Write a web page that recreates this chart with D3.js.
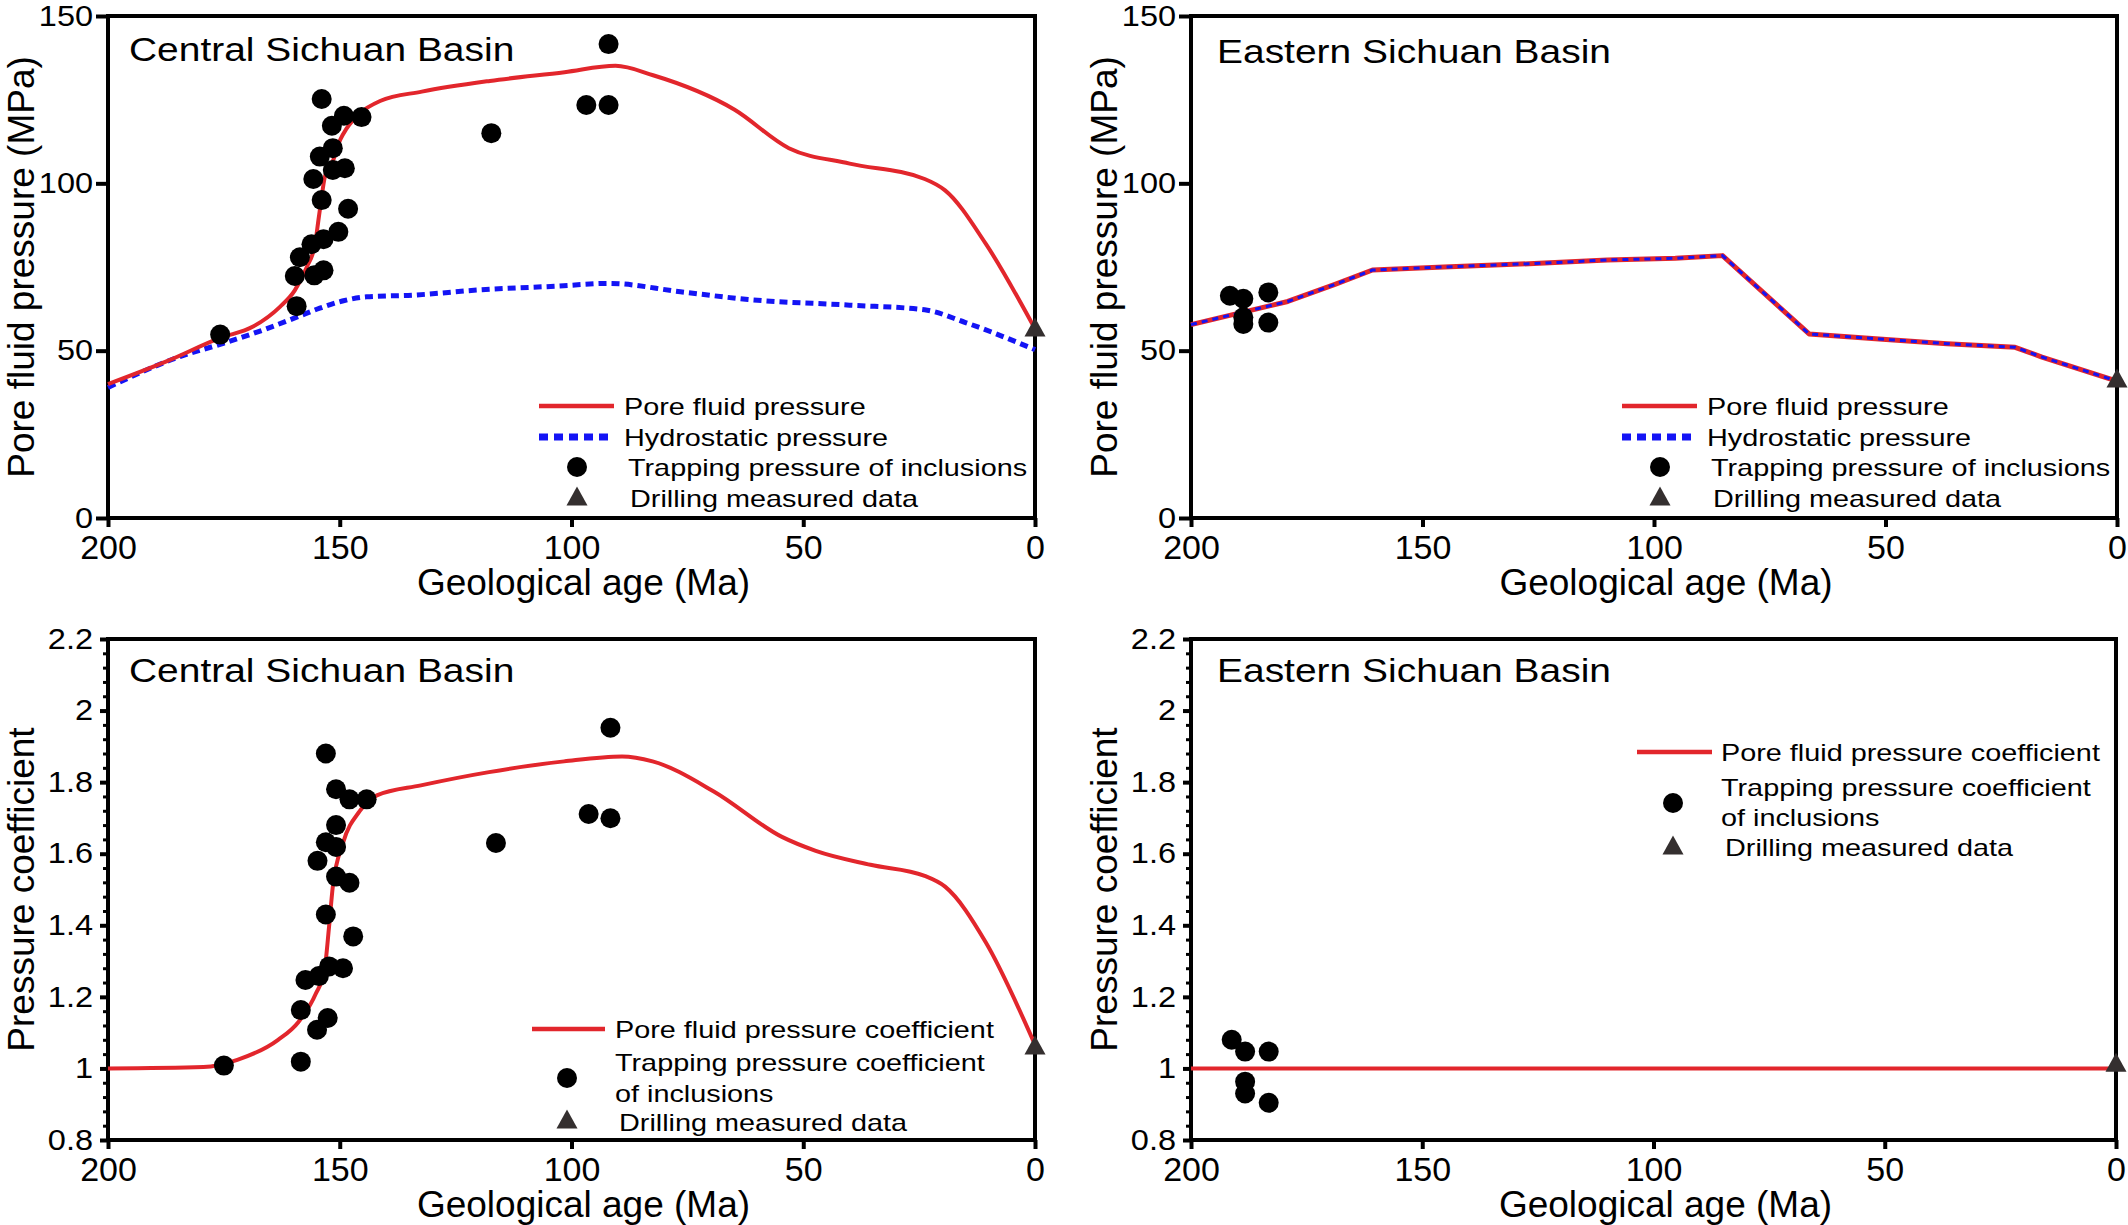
<!DOCTYPE html>
<html><head><meta charset="utf-8">
<script src="https://cdn.jsdelivr.net/npm/d3@7"></script>
<style>
html,body{margin:0;padding:0;background:#fff;}
svg{display:block;}
</style></head><body>
<svg id="c" width="2128" height="1225"></svg>
<script>
// ---------- DATA ----------
const ageTicks = [200, 150, 100, 50, 0];
const pressureTicks = [0, 50, 100, 150];
const coefTicks = [0.8, 1, 1.2, 1.4, 1.6, 1.8, 2, 2.2];

// Central Sichuan Basin – pore fluid pressure (MPa) vs age (Ma)
const centralPore = [[200,40],[187,47],[175.8,53.8],[168.7,57.2],[162.9,63.1],[159.7,68],[157.1,75],[155.3,82],[154.6,89],[154.1,94],[153.2,102],[151.4,107],[149.9,113],[148.5,116.4],[145.6,121],[141.3,124.6],[132.3,127.4],[117.6,130.6],[101.5,133.2],[90.5,135.1],[82.4,132.3],[64.8,122],[53.1,110.5],[40,105.9],[23.8,101.3],[19.4,97.9],[10.6,81.9],[0,56.5]];
const centralHydro = [[200,39],[184.5,48.2],[175.1,52.2],[166.5,56.2],[159.3,60],[154.3,62.7],[149.2,64.9],[144.2,66.1],[134.1,66.6],[120.5,68.1],[102.9,69.3],[91.9,70.1],[76.5,67.6],[61.9,65.3],[40,63.6],[23.8,62.2],[15,58.4],[0,50.3]];
const centralTrap = [[175.8,54.8],[159.3,63.3],[159.7,72.3],[158.6,77.9],[155.5,72.5],[153.5,74],[156.1,81.8],[153.5,83.3],[150.3,85.5],[153.9,95],[148.2,92.4],[155.7,101.3],[151.5,104],[148.9,104.5],[154.3,108],[151.5,110.5],[151.7,117.2],[149.1,120.2],[145.3,119.8],[153.9,125.2],[117.3,115],[96.8,123.4],[92,123.4],[92,141.6]];
const centralDrill = [[0,56.5]];

// Eastern Sichuan Basin – pore fluid pressure = hydrostatic pressure (MPa)
const easternPore = [[200,57.8],[179.1,64.7],[168.9,69.8],[160.8,74.1],[145.4,75],[124.8,76.1],[110.1,77.1],[95.4,77.6],[85.2,78.4],[66.5,55],[51.4,53.5],[36.7,52.1],[22,51],[16.2,48.1],[0,40.9]];
const easternHydro = [[200,57.8],[179.1,64.7],[168.9,69.8],[160.8,74.1],[145.4,75],[124.8,76.1],[110.1,77.1],[95.4,77.6],[85.2,78.4],[66.5,55],[51.4,53.5],[36.7,52.1],[22,51],[16.2,48.1],[0,40.9]];
const easternTrap = [[191.6,66.4],[188.7,65.5],[183.3,67.4],[188.7,60],[188.7,58],[183.3,58.4]];
const easternDrill = [[0,41.3]];

// Pressure coefficient
const centralCoef = [[200,1.0],[179.4,1.004],[172.1,1.024],[163.3,1.08],[158.9,1.13],[155.2,1.208],[153.3,1.274],[152.3,1.397],[151.5,1.508],[149.3,1.63],[145.7,1.719],[142,1.763],[132.5,1.791],[117.8,1.828],[101.6,1.858],[89.1,1.872],[82.5,1.858],[69.3,1.774],[54.6,1.647],[47.3,1.608],[35.5,1.569],[23.8,1.538],[19.4,1.508],[10.6,1.352],[0,1.066]];
const centralCoefTrap = [[175,1.008],[158.4,1.019],[158.4,1.163],[154.9,1.108],[152.6,1.141],[157.4,1.247],[154.5,1.258],[152.3,1.285],[149.3,1.28],[147.1,1.369],[153,1.43],[150.8,1.536],[147.9,1.519],[154.8,1.58],[153,1.632],[150.8,1.619],[150.8,1.68],[150.8,1.78],[147.9,1.752],[144.2,1.752],[153,1.88],[116.3,1.63],[96.3,1.711],[91.6,1.699],[91.6,1.952]];
const centralCoefDrill = [[0,1.06]];
const easternCoef = [[200,1.0],[0,1.0]];
const easternCoefTrap = [[191.2,1.08],[188.3,1.047],[183.2,1.047],[188.3,0.963],[188.3,0.93],[183.2,0.904]];
const easternCoefDrill = [[0,1.012]];

// ---------- STYLE ----------
const FONT = '"Liberation Sans", Arial, Helvetica, sans-serif';
const RED = '#e2262c';
const BLUE = '#1414f5';
const TRI = '#342f2f';

const svg = d3.select('#c');

function stretch(sel, f) {
  sel.each(function () {
    const w = this.getComputedTextLength();
    this.setAttribute('textLength', (w * f).toFixed(1));
    this.setAttribute('lengthAdjust', 'spacingAndGlyphs');
  });
}

function triPath(cx, cy, w, h) {
  return `M${cx},${cy - h * 0.6}L${cx + w / 2},${cy + h * 0.4}L${cx - w / 2},${cy + h * 0.4}Z`;
}

function panel(o) {
  const g = svg.append('g');
  const x = d3.scaleLinear().domain([200, 0]).range([o.x0, o.x1]);
  const y = d3.scaleLinear().domain(o.ydom).range([o.y1, o.y0]);

  // x axis
  const xa = g.append('g').attr('transform', `translate(0,${o.y1})`)
    .call(d3.axisBottom(x).tickValues(ageTicks).tickSize(9).tickPadding(8).tickSizeOuter(0));
  xa.select('.domain').remove();
  xa.selectAll('.tick line').attr('stroke', '#000').attr('stroke-width', 4);
  xa.selectAll('.tick text').attr('font-family', FONT).attr('font-size', 34).attr('fill', '#000');

  // y axis
  if (o.minor) {
    const minorVals = d3.range(0.84, 2.2, 0.04).filter(v => Math.abs(v * 5 - Math.round(v * 5)) > 1e-6);
    const ma = g.append('g').attr('transform', `translate(${o.x0},0)`)
      .call(d3.axisLeft(y).tickValues(minorVals).tickSize(5).tickFormat(''));
    ma.select('.domain').remove();
    ma.selectAll('.tick line').attr('stroke', '#000').attr('stroke-width', 3);
  }
  const ya = g.append('g').attr('transform', `translate(${o.x0},0)`)
    .call(d3.axisLeft(y).tickValues(o.yticks).tickSize(o.ytickSize).tickPadding(o.ytickPad)
      .tickFormat(o.yfmt).tickSizeOuter(0));
  ya.select('.domain').remove();
  ya.selectAll('.tick line').attr('stroke', '#000').attr('stroke-width', 4);
  const yt = ya.selectAll('.tick text').attr('font-family', FONT).attr('font-size', 29).attr('fill', '#000');
  stretch(yt, 1.12);

  // frame
  g.append('rect').attr('x', o.x0).attr('y', o.y0).attr('width', o.x1 - o.x0).attr('height', o.y1 - o.y0)
    .attr('fill', 'none').attr('stroke', '#000').attr('stroke-width', 4);

  // lines
  o.lines.forEach(L => {
    g.append('path').datum(L.data)
      .attr('d', d3.line().x(d => x(d[0])).y(d => y(d[1])).curve(L.curve || d3.curveLinear))
      .attr('fill', 'none').attr('stroke', L.color).attr('stroke-width', L.width)
      .attr('stroke-dasharray', L.dash || null).attr('stroke-linejoin', 'round');
  });

  // dots
  g.append('g').selectAll('circle').data(o.dots).join('circle')
    .attr('cx', d => x(d[0])).attr('cy', d => y(d[1])).attr('r', 10).attr('fill', '#000');

  // drilling triangle
  g.append('g').selectAll('path').data(o.drill).join('path')
    .attr('d', d => triPath(x(d[0]), y(d[1]), 21, 19)).attr('fill', TRI);

  // basin title
  const bt = g.append('text').attr('x', o.titleX).attr('y', o.titleY)
    .attr('font-family', FONT).attr('font-size', 33).text(o.title);
  stretch(bt, 1.18);

  // axis titles
  g.append('text').attr('x', (o.x0 + o.x1) / 2 + 12).attr('y', o.y1 + 77)
    .attr('text-anchor', 'middle').attr('font-family', FONT).attr('font-size', 37)
    .text('Geological age (Ma)');
  g.append('text').attr('transform', `translate(${o.x0 - 74},${(o.y0 + o.y1) / 2}) rotate(-90)`)
    .attr('text-anchor', 'middle').attr('font-family', FONT).attr('font-size', 37)
    .text(o.ytitle);

  // legend
  const lg = g.append('g');
  o.legend.forEach(it => {
    if (it.type === 'line') {
      lg.append('line').attr('x1', it.lx0).attr('x2', it.lx1).attr('y1', it.cy).attr('y2', it.cy)
        .attr('stroke', it.color).attr('stroke-width', it.width).attr('stroke-dasharray', it.dash || null);
    } else if (it.type === 'dot') {
      lg.append('circle').attr('cx', it.mx).attr('cy', it.my).attr('r', 10).attr('fill', '#000');
    } else if (it.type === 'tri') {
      lg.append('path').attr('d', triPath(it.mx, it.my, 21, 19)).attr('fill', TRI);
    }
    it.texts.forEach(t => {
      const tx = lg.append('text').attr('x', t[0]).attr('y', t[1] + 8.5)
        .attr('font-family', FONT).attr('font-size', 24).text(t[2]);
      stretch(tx, 1.2);
    });
  });
}

const fmtP = d3.format('d');
const fmtC = d => String(+d.toFixed(1));

// Top-left
panel({
  x0: 108, x1: 1035, y0: 16, y1: 518, ydom: [0, 150], yticks: pressureTicks, yfmt: fmtP,
  ytickSize: 12, ytickPad: 3, minor: false,
  title: 'Central Sichuan Basin', titleX: 129, titleY: 61,
  ytitle: 'Pore fluid pressure (MPa)',
  lines: [
    { data: centralHydro, color: BLUE, width: 5, dash: '8,5', curve: d3.curveMonotoneX },
    { data: centralPore, color: RED, width: 4, curve: d3.curveMonotoneX }
  ],
  dots: centralTrap, drill: centralDrill,
  legend: [
    { type: 'line', lx0: 539, lx1: 614, cy: 406, color: RED, width: 4.5, texts: [[624, 406, 'Pore fluid pressure']] },
    { type: 'line', lx0: 539, lx1: 614, cy: 437, color: BLUE, width: 7, dash: '9,6', texts: [[624, 437, 'Hydrostatic pressure']] },
    { type: 'dot', mx: 577, my: 467, texts: [[628, 467, 'Trapping pressure of inclusions']] },
    { type: 'tri', mx: 577, my: 498, texts: [[630, 498, 'Drilling measured data']] }
  ]
});

// Top-right
panel({
  x0: 1191, x1: 2117, y0: 16, y1: 518, ydom: [0, 150], yticks: pressureTicks, yfmt: fmtP,
  ytickSize: 12, ytickPad: 3, minor: false,
  title: 'Eastern Sichuan Basin', titleX: 1217, titleY: 63,
  ytitle: 'Pore fluid pressure (MPa)',
  lines: [
    { data: easternPore, color: RED, width: 5 },
    { data: easternHydro, color: BLUE, width: 3, dash: '6,5' }
  ],
  dots: easternTrap, drill: easternDrill,
  legend: [
    { type: 'line', lx0: 1622, lx1: 1697, cy: 406, color: RED, width: 4.5, texts: [[1707, 406, 'Pore fluid pressure']] },
    { type: 'line', lx0: 1622, lx1: 1697, cy: 437, color: BLUE, width: 7, dash: '9,6', texts: [[1707, 437, 'Hydrostatic pressure']] },
    { type: 'dot', mx: 1660, my: 467, texts: [[1711, 467, 'Trapping pressure of inclusions']] },
    { type: 'tri', mx: 1660, my: 498, texts: [[1713, 498, 'Drilling measured data']] }
  ]
});

// Bottom-left
panel({
  x0: 108, x1: 1035, y0: 639, y1: 1140, ydom: [0.8, 2.2], yticks: coefTicks, yfmt: fmtC,
  ytickSize: 8, ytickPad: 7, minor: true,
  title: 'Central Sichuan Basin', titleX: 129, titleY: 682,
  ytitle: 'Pressure coefficient',
  lines: [
    { data: centralCoef, color: RED, width: 4, curve: d3.curveMonotoneX }
  ],
  dots: centralCoefTrap, drill: centralCoefDrill,
  legend: [
    { type: 'line', lx0: 532, lx1: 605, cy: 1029, color: RED, width: 4.5, texts: [[615, 1029, 'Pore fluid pressure coefficient']] },
    { type: 'dot', mx: 567, my: 1078, texts: [[615, 1062, 'Trapping pressure coefficient'], [615, 1093, 'of inclusions']] },
    { type: 'tri', mx: 567, my: 1121, texts: [[619, 1122, 'Drilling measured data']] }
  ]
});

// Bottom-right
panel({
  x0: 1191, x1: 2116, y0: 639, y1: 1140, ydom: [0.8, 2.2], yticks: coefTicks, yfmt: fmtC,
  ytickSize: 8, ytickPad: 7, minor: true,
  title: 'Eastern Sichuan Basin', titleX: 1217, titleY: 682,
  ytitle: 'Pressure coefficient',
  lines: [
    { data: easternCoef, color: RED, width: 4 }
  ],
  dots: easternCoefTrap, drill: easternCoefDrill,
  legend: [
    { type: 'line', lx0: 1637, lx1: 1712, cy: 752, color: RED, width: 4.5, texts: [[1721, 752, 'Pore fluid pressure coefficient']] },
    { type: 'dot', mx: 1673, my: 803, texts: [[1721, 787, 'Trapping pressure coefficient'], [1721, 817, 'of inclusions']] },
    { type: 'tri', mx: 1673, my: 847, texts: [[1725, 847, 'Drilling measured data']] }
  ]
});
</script>
</body></html>
